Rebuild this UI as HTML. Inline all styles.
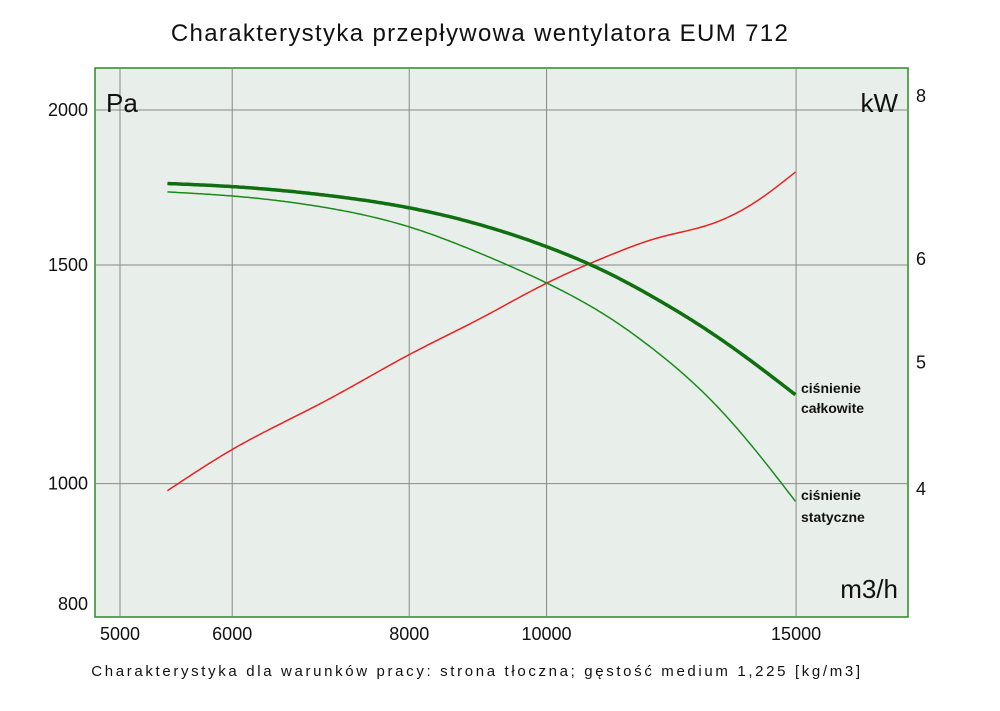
<!DOCTYPE html>
<html><head><meta charset="utf-8"><style>
body{margin:0;background:#fff;font-family:"Liberation Sans",sans-serif;}
</style></head><body>
<svg width="1000" height="706" viewBox="0 0 1000 706" id="chart">
<text x="480" y="41" text-anchor="middle" font-size="24" fill="#111" letter-spacing="1.35">Charakterystyka przepływowa wentylatora EUM 712</text>
<rect x="95" y="68" width="813" height="549" fill="#e8efea" stroke="#2a8a2a" stroke-width="1.5"/>
<g id="grid"></g><g id="series"></g><g id="labels"></g>
<text x="106" y="112" font-size="26" fill="#111">Pa</text>
<text x="898" y="112" font-size="26" fill="#111" text-anchor="end">kW</text>
<text x="898" y="598" font-size="26" fill="#111" text-anchor="end">m3/h</text>
<text x="801" y="393" font-size="14" font-weight="bold" fill="#111">ciśnienie</text>
<text x="801" y="413" font-size="14" font-weight="bold" fill="#111">całkowite</text>
<text x="801" y="500" font-size="14" font-weight="bold" fill="#111">ciśnienie</text>
<text x="801" y="522" font-size="14" font-weight="bold" fill="#111">statyczne</text>
<text x="477" y="676" text-anchor="middle" font-size="15" fill="#111" letter-spacing="2.65">Charakterystyka dla warunków pracy: strona tłoczna; gęstość medium 1,225 [kg/m3]</text>
</svg>
<script>
const flows=[5400,6000,7000,8000,9000,10000,11000,12000,13000,14000,15000];
const totalPa=[1745,1735,1707,1668,1615,1552,1482,1405,1328,1251,1178];
const staticPa=[1718,1705,1668,1610,1531,1451,1367,1273,1174,1068,966];
const powerKW=[3.98,4.28,4.67,5.06,5.40,5.74,6.01,6.22,6.36,6.61,6.99];
const xTicks=[5000,6000,8000,10000,15000];
const yTicks=[800,1000,1500,2000];
const kwTicks=[4,5,6,8];
const ns="http://www.w3.org/2000/svg";
const X=v=>120+1417*Math.log10(v/5000);
const Y=v=>110+1241*Math.log10(2000/v);
const K=v=>95+1305*Math.log10(8/v);
function mk(t,a,p){const e=document.createElementNS(ns,t);for(const k in a)e.setAttribute(k,a[k]);p.appendChild(e);return e;}
const g=document.getElementById('grid'),s=document.getElementById('series'),lb=document.getElementById('labels');
xTicks.forEach(v=>{const l=mk('line',{x1:X(v),x2:X(v),y1:68,y2:617,stroke:'#888','stroke-width':1},g);


const t=mk('text',{x:X(v),y:640,'text-anchor':'middle','font-size':18,fill:'#111'},lb);t.textContent=v;

});
yTicks.forEach(v=>{if(v>800){const l=mk('line',{x1:95,x2:908,y1:Y(v),y2:Y(v),stroke:'#888','stroke-width':1},g);

}
const t=mk('text',{x:88,y:Y(v)+6,'text-anchor':'end','font-size':18,fill:'#111'},lb);t.textContent=v;

});
kwTicks.forEach(v=>{const t=mk('text',{x:916,y:K(v)+7,'font-size':18,fill:'#111'},lb);t.textContent=v;

});
function spline(xs,ys){const n=xs.length,h=[],al=[0],l=[1],mu=[0],z=[0],c=new Array(n).fill(0);
for(let i=0;i<n-1;i++)h.push(xs[i+1]-xs[i]);
for(let i=1;i<n-1;i++)al.push(3/h[i]*(ys[i+1]-ys[i])-3/h[i-1]*(ys[i]-ys[i-1]));
for(let i=1;i<n-1;i++){l[i]=2*(xs[i+1]-xs[i-1])-h[i-1]*mu[i-1];mu[i]=h[i]/l[i];z[i]=(al[i]-h[i-1]*z[i-1])/l[i];}
const b=[],d=[];
for(let j=n-2;j>=0;j--){c[j]=(z[j]||0)-(mu[j]||0)*c[j+1];b[j]=(ys[j+1]-ys[j])/h[j]-h[j]*(c[j+1]+2*c[j])/3;d[j]=(c[j+1]-c[j])/(3*h[j]);}
return x=>{let j=0;while(j<n-2&&x>xs[j+1])j++;const t=x-xs[j];return ys[j]+b[j]*t+c[j]*t*t+d[j]*t*t*t;};}
function line(vals,fy,col,w,name){
const xs=flows.map(X),ys=vals.map(fy),f=spline(xs,ys);
let d='';for(let x=xs[0];x<=xs[xs.length-1]+0.01;x+=2){d+=(d?'L':'M')+x.toFixed(1)+','+f(Math.min(x,xs[xs.length-1])).toFixed(1);}
const p=mk('path',{d:d,fill:'none',stroke:col,'stroke-width':w,'stroke-linejoin':'round'},s);

}
line(powerKW,K,'#e82020',1.5,'power-curve');
line(staticPa,Y,'#1a8a1a',1.5,'static-pressure-curve');
line(totalPa,Y,'#107010',3.5,'total-pressure-curve');
</script>
</body></html>
